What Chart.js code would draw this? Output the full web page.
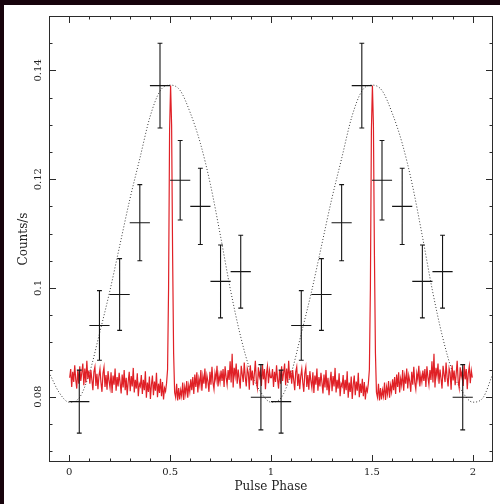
<!DOCTYPE html>
<html>
<head>
<meta charset="utf-8">
<script src="https://cdn.jsdelivr.net/npm/chart.js@4.4.1/dist/chart.umd.min.js"></script>
<style>
  html, body { margin: 0; padding: 0; background: #fff; }
  #wrap { position: absolute; left: 0; top: 0; width: 500px; height: 504px; }
  .edge { position: absolute; background: #17030c; z-index: 2; }
  #edgeTop { left: 0; top: 0; width: 500px; height: 5px; }
  #edgeLeft { left: 0; top: 0; width: 4px; height: 504px; }
</style>
</head>
<body>
<div id="wrap"><canvas id="profile"></canvas></div>
<div class="edge" id="edgeTop"></div>
<div class="edge" id="edgeLeft"></div>
<script>
// folded light curve, 200 bins over one cycle (plotted twice)
const curveRate = [
  0.0835, 0.0851, 0.0818, 0.0846, 0.0827, 0.0858, 0.0832, 0.0815, 0.0849, 0.0824,
  0.0856, 0.0829, 0.0844, 0.0861, 0.0821, 0.0852, 0.0826, 0.0866, 0.0833, 0.0848,
  0.0824, 0.0849, 0.0831, 0.0812, 0.0846, 0.0855, 0.0820, 0.0842, 0.0814, 0.0838,
  0.0851, 0.0826, 0.0809, 0.0843, 0.0854, 0.0818, 0.0840, 0.0813, 0.0847, 0.0829,
  0.0816, 0.0845, 0.0807, 0.0839, 0.0822, 0.0852, 0.0811, 0.0836, 0.0819, 0.0844,
  0.0826, 0.0806, 0.0841, 0.0817, 0.0849, 0.0812, 0.0835, 0.0803, 0.0828, 0.0846,
  0.0810, 0.0838, 0.0819, 0.0853, 0.0808, 0.0831, 0.0815, 0.0843, 0.0801, 0.0824,
  0.0819, 0.0840, 0.0805, 0.0831, 0.0812, 0.0847, 0.0798, 0.0826, 0.0809, 0.0837,
  0.0796, 0.0822, 0.0839, 0.0803, 0.0828, 0.0811, 0.0844, 0.0799, 0.0824, 0.0807,
  0.0833, 0.0801, 0.0827, 0.0795, 0.0816, 0.0810,
  0.0825, 0.0850, 0.1000, 0.1290, 0.1372, 0.1300, 0.1060, 0.0880, 0.0808,
  0.0799, 0.0824, 0.0793, 0.0816, 0.0795, 0.0812, 0.0801, 0.0826, 0.0794, 0.0818,
  0.0805, 0.0829, 0.0798, 0.0821, 0.0809, 0.0832,
  0.0812, 0.0836, 0.0805, 0.0841, 0.0818, 0.0845, 0.0808, 0.0833, 0.0821, 0.0849,
  0.0811, 0.0838, 0.0824, 0.0852, 0.0815, 0.0839, 0.0828, 0.0809, 0.0846, 0.0822,
  0.0855, 0.0826, 0.0814, 0.0843, 0.0831, 0.0857, 0.0819, 0.0840, 0.0827, 0.0848,
  0.0829, 0.0851, 0.0818, 0.0856, 0.0836, 0.0822, 0.0849, 0.0831, 0.0865, 0.0826,
  0.0879, 0.0817, 0.0853, 0.0838, 0.0861, 0.0824, 0.0850, 0.0833, 0.0815, 0.0857,
  0.0841, 0.0827, 0.0863, 0.0836, 0.0819, 0.0852, 0.0844, 0.0813, 0.0858, 0.0830,
  0.0848, 0.0821, 0.0842, 0.0866, 0.0828, 0.0816, 0.0854, 0.0837, 0.0847, 0.0820,
  0.0859, 0.0832, 0.0851, 0.0814, 0.0843, 0.0856, 0.0825, 0.0848, 0.0835
];

// binned count rate with 1-sigma errors, 10 bins per cycle
const binPhase = [0.05, 0.15, 0.25, 0.35, 0.45, 0.55, 0.65, 0.75, 0.85, 0.95];
const binRate = [0.0791, 0.0931, 0.0988, 0.1120, 0.1372, 0.1198, 0.1150, 0.1012, 0.1030, 0.0799];
const binErr = [0.0058, 0.0064, 0.0066, 0.0070, 0.0078, 0.0073, 0.0070, 0.0067, 0.0067, 0.0060];

// fitted model, one cycle sampled every 0.05
const modelPhase = [0, 0.05, 0.1, 0.15, 0.2, 0.25, 0.3, 0.35, 0.4, 0.45,
                    0.5, 0.55, 0.6, 0.65, 0.7, 0.75, 0.8, 0.85, 0.9, 0.95];
const modelRate = [0.0790, 0.0798, 0.0843, 0.0916, 0.0992, 0.1077, 0.1162, 0.1238, 0.1314, 0.1362,
                   0.1373, 0.1363, 0.1322, 0.1266, 0.1190, 0.1095, 0.0995, 0.0910, 0.0845, 0.0808];

const xTicks = [0, 0.5, 1, 1.5, 2];
const xTickLabels = ["0", "0.5", "1", "1.5", "2"];
const yTicks = [0.08, 0.1, 0.12, 0.14];
const yTickLabels = ["0.08", "0.1", "0.12", "0.14"];

const cycles = 2;
const xMin = -0.1, xMax = 2.1;
const yMin = 0.068, yMax = 0.150;

// red light curve over both cycles
const curvePts = [];
for (let c = 0; c < cycles; c++) {
  curveRate.forEach((v, i) => {
    curvePts.push({ x: c + (i + 0.5) / curveRate.length, y: v });
  });
}

// model repeated so it runs edge to edge
const modelPts = [];
for (let c = -1; c <= cycles; c++) {
  modelPhase.forEach((p, i) => {
    const x = c + p;
    if (x >= xMin - 1e-9 && x <= xMax + 1e-9) modelPts.push({ x, y: modelRate[i] });
  });
}

// error crosses as separate segments, null breaks the line
const errPts = [];
const halfBin = 0.05, cap = 0.012;
for (let c = 0; c < cycles; c++) {
  binPhase.forEach((p, i) => {
    const x = c + p, y = binRate[i], e = binErr[i];
    errPts.push({ x, y: y - e }, { x, y: y + e }, { x, y: null });
    errPts.push({ x: x - halfBin, y }, { x: x + halfBin, y }, { x, y: null });
    errPts.push({ x: x - cap, y: y + e }, { x: x + cap, y: y + e }, { x, y: null });
    errPts.push({ x: x - cap, y: y - e }, { x: x + cap, y: y - e }, { x, y: null });
  });
}

// box and inward ticks on all four sides
const frameTicks = {
  id: "frameTicks",
  afterDraw(chart) {
    const { ctx, chartArea: a, scales: { x, y } } = chart;
    ctx.save();
    ctx.strokeStyle = "#2b2b2b";
    ctx.lineWidth = 1;
    ctx.strokeRect(a.left + 0.5, a.top + 0.5, a.right - a.left - 1, a.bottom - a.top - 1);
    ctx.beginPath();
    for (let k = 0; k <= 20; k++) {
      const v = k / 10;
      const px = Math.round(x.getPixelForValue(v)) + 0.5;
      const len = xTicks.includes(v) ? 7 : 3.5;
      ctx.moveTo(px, a.bottom); ctx.lineTo(px, a.bottom - len);
      ctx.moveTo(px, a.top); ctx.lineTo(px, a.top + len);
    }
    for (let k = 14; k <= 29; k++) {
      const py = Math.round(y.getPixelForValue(k * 0.005)) + 0.5;
      const len = k % 4 === 0 ? 7 : 3.5;
      ctx.moveTo(a.left, py); ctx.lineTo(a.left + len, py);
      ctx.moveTo(a.right, py); ctx.lineTo(a.right - len, py);
    }
    ctx.stroke();
    ctx.restore();
  }
};

const serif = "DejaVu Serif";

new Chart(document.getElementById("profile"), {
  type: "line",
  data: {
    datasets: [
      { data: errPts, borderColor: "#151515", borderWidth: 1.1, pointRadius: 0, spanGaps: false, order: 1 },
      { data: curvePts, borderColor: "rgb(224,32,38)", borderWidth: 1.2, pointRadius: 0, order: 2 },
      { data: modelPts, borderColor: "#3a3a3a", borderWidth: 1, borderDash: [1, 2], pointRadius: 0,
        cubicInterpolationMode: "monotone", order: 3 }
    ]
  },
  options: {
    responsive: true,
    maintainAspectRatio: false,
    animation: false,
    layout: { padding: { top: 16, right: 7, left: 0, bottom: 0 } },
    plugins: { legend: { display: false }, tooltip: { enabled: false } },
    scales: {
      x: {
        type: "linear",
        min: xMin,
        max: xMax,
        grid: { display: false, drawTicks: false },
        border: { display: false },
        afterBuildTicks: s => { s.ticks = xTicks.map(v => ({ value: v })); },
        afterFit: s => { s.height = 42; },
        ticks: {
          padding: 4, color: "#222", maxRotation: 0, autoSkip: false,
          font: { family: serif, size: 10 },
          callback: v => xTickLabels[xTicks.indexOf(v)]
        },
        title: {
          display: true, text: "Pulse Phase", color: "#222",
          font: { family: serif, size: 12 }, padding: { top: 0, bottom: 10 }
        }
      },
      y: {
        type: "linear",
        min: yMin,
        max: yMax,
        grid: { display: false, drawTicks: false },
        border: { display: false },
        afterBuildTicks: s => { s.ticks = yTicks.map(v => ({ value: v })); },
        afterFit: s => { s.width = 49; },
        ticks: {
          padding: -1, color: "#222", minRotation: 90, maxRotation: 90, crossAlign: "center",
          font: { family: serif, size: 10 },
          callback: v => yTickLabels[yTicks.indexOf(v)]
        },
        title: {
          display: true, text: "Counts/s", color: "#222",
          font: { family: serif, size: 12 }, padding: { top: 17, bottom: 0 }
        }
      }
    }
  },
  plugins: [frameTicks]
});
</script>
</body>
</html>
